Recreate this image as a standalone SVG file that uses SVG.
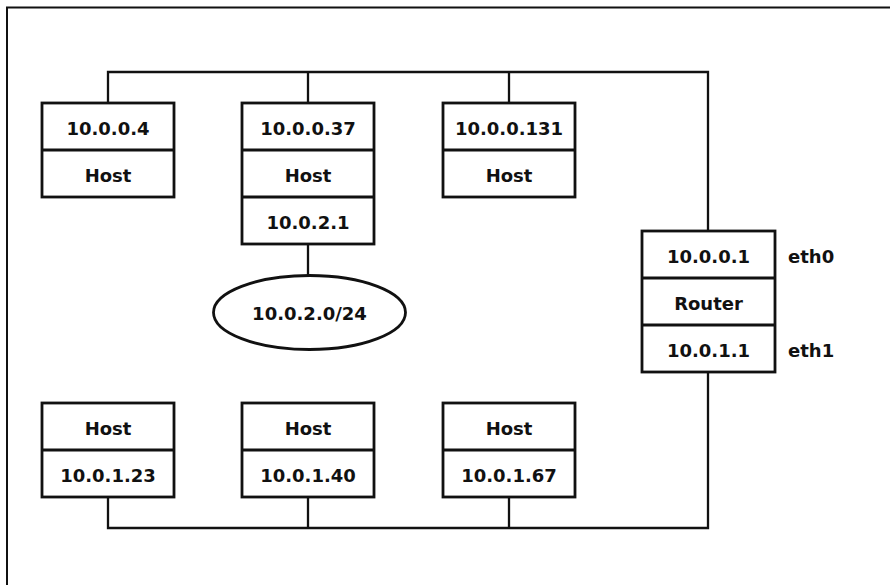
<svg xmlns="http://www.w3.org/2000/svg" width="890" height="585" viewBox="0 0 890 585">
<style>
.box{fill:#fff;stroke:#111;stroke-width:2.8}
.div{stroke:#111;stroke-width:2.8}
.wire{fill:none;stroke:#111;stroke-width:2.3}
text{font-family:"DejaVu Sans","Liberation Sans",sans-serif;font-weight:bold;font-size:18px;fill:#111;text-anchor:middle}
.lbl{text-anchor:start}
</style>
<rect width="890" height="585" fill="#fff"/>
<path d="M7,590 V7.5 H895" fill="none" stroke="#111" stroke-width="2"/>
<g id="connectors">
<path class="wire" d="M108,103 V72 H708 V231"/>
<path class="wire" d="M308,72 V103"/>
<path class="wire" d="M509,72 V103"/>
<path class="wire" d="M308,244 V275"/>
<path class="wire" d="M108,497 V528 H708 V372"/>
<path class="wire" d="M308,497 V528"/>
<path class="wire" d="M509,497 V528"/>
</g>
<g id="host1">
<rect class="box" x="42" y="103" width="132" height="94"/>
<line class="div" x1="42" y1="150" x2="174" y2="150"/>
<text x="108" y="135">10.0.0.4</text>
<text x="108" y="182">Host</text>
</g>
<g id="host2">
<rect class="box" x="242" y="103" width="132" height="141"/>
<line class="div" x1="242" y1="150" x2="374" y2="150"/>
<line class="div" x1="242" y1="197" x2="374" y2="197"/>
<text x="308" y="135">10.0.0.37</text>
<text x="308" y="182">Host</text>
<text x="308" y="229">10.0.2.1</text>
</g>
<g id="host3">
<rect class="box" x="443" y="103" width="132" height="94"/>
<line class="div" x1="443" y1="150" x2="575" y2="150"/>
<text x="509" y="135">10.0.0.131</text>
<text x="509" y="182">Host</text>
</g>
<g id="subnet">
<ellipse class="box" cx="309.5" cy="312.5" rx="96" ry="37"/>
<text x="309.5" y="319.5">10.0.2.0/24</text>
</g>
<g id="router">
<rect class="box" x="642" y="231" width="133" height="141"/>
<line class="div" x1="642" y1="278" x2="775" y2="278"/>
<line class="div" x1="642" y1="325" x2="775" y2="325"/>
<text x="708.5" y="263">10.0.0.1</text>
<text x="708.5" y="310">Router</text>
<text x="708.5" y="357">10.0.1.1</text>
<text class="lbl" x="788" y="263">eth0</text>
<text class="lbl" x="788" y="357">eth1</text>
</g>
<g id="host4">
<rect class="box" x="42" y="403" width="132" height="94"/>
<line class="div" x1="42" y1="450" x2="174" y2="450"/>
<text x="108" y="435">Host</text>
<text x="108" y="482">10.0.1.23</text>
</g>
<g id="host5">
<rect class="box" x="242" y="403" width="132" height="94"/>
<line class="div" x1="242" y1="450" x2="374" y2="450"/>
<text x="308" y="435">Host</text>
<text x="308" y="482">10.0.1.40</text>
</g>
<g id="host6">
<rect class="box" x="443" y="403" width="132" height="94"/>
<line class="div" x1="443" y1="450" x2="575" y2="450"/>
<text x="509" y="435">Host</text>
<text x="509" y="482">10.0.1.67</text>
</g>
</svg>
